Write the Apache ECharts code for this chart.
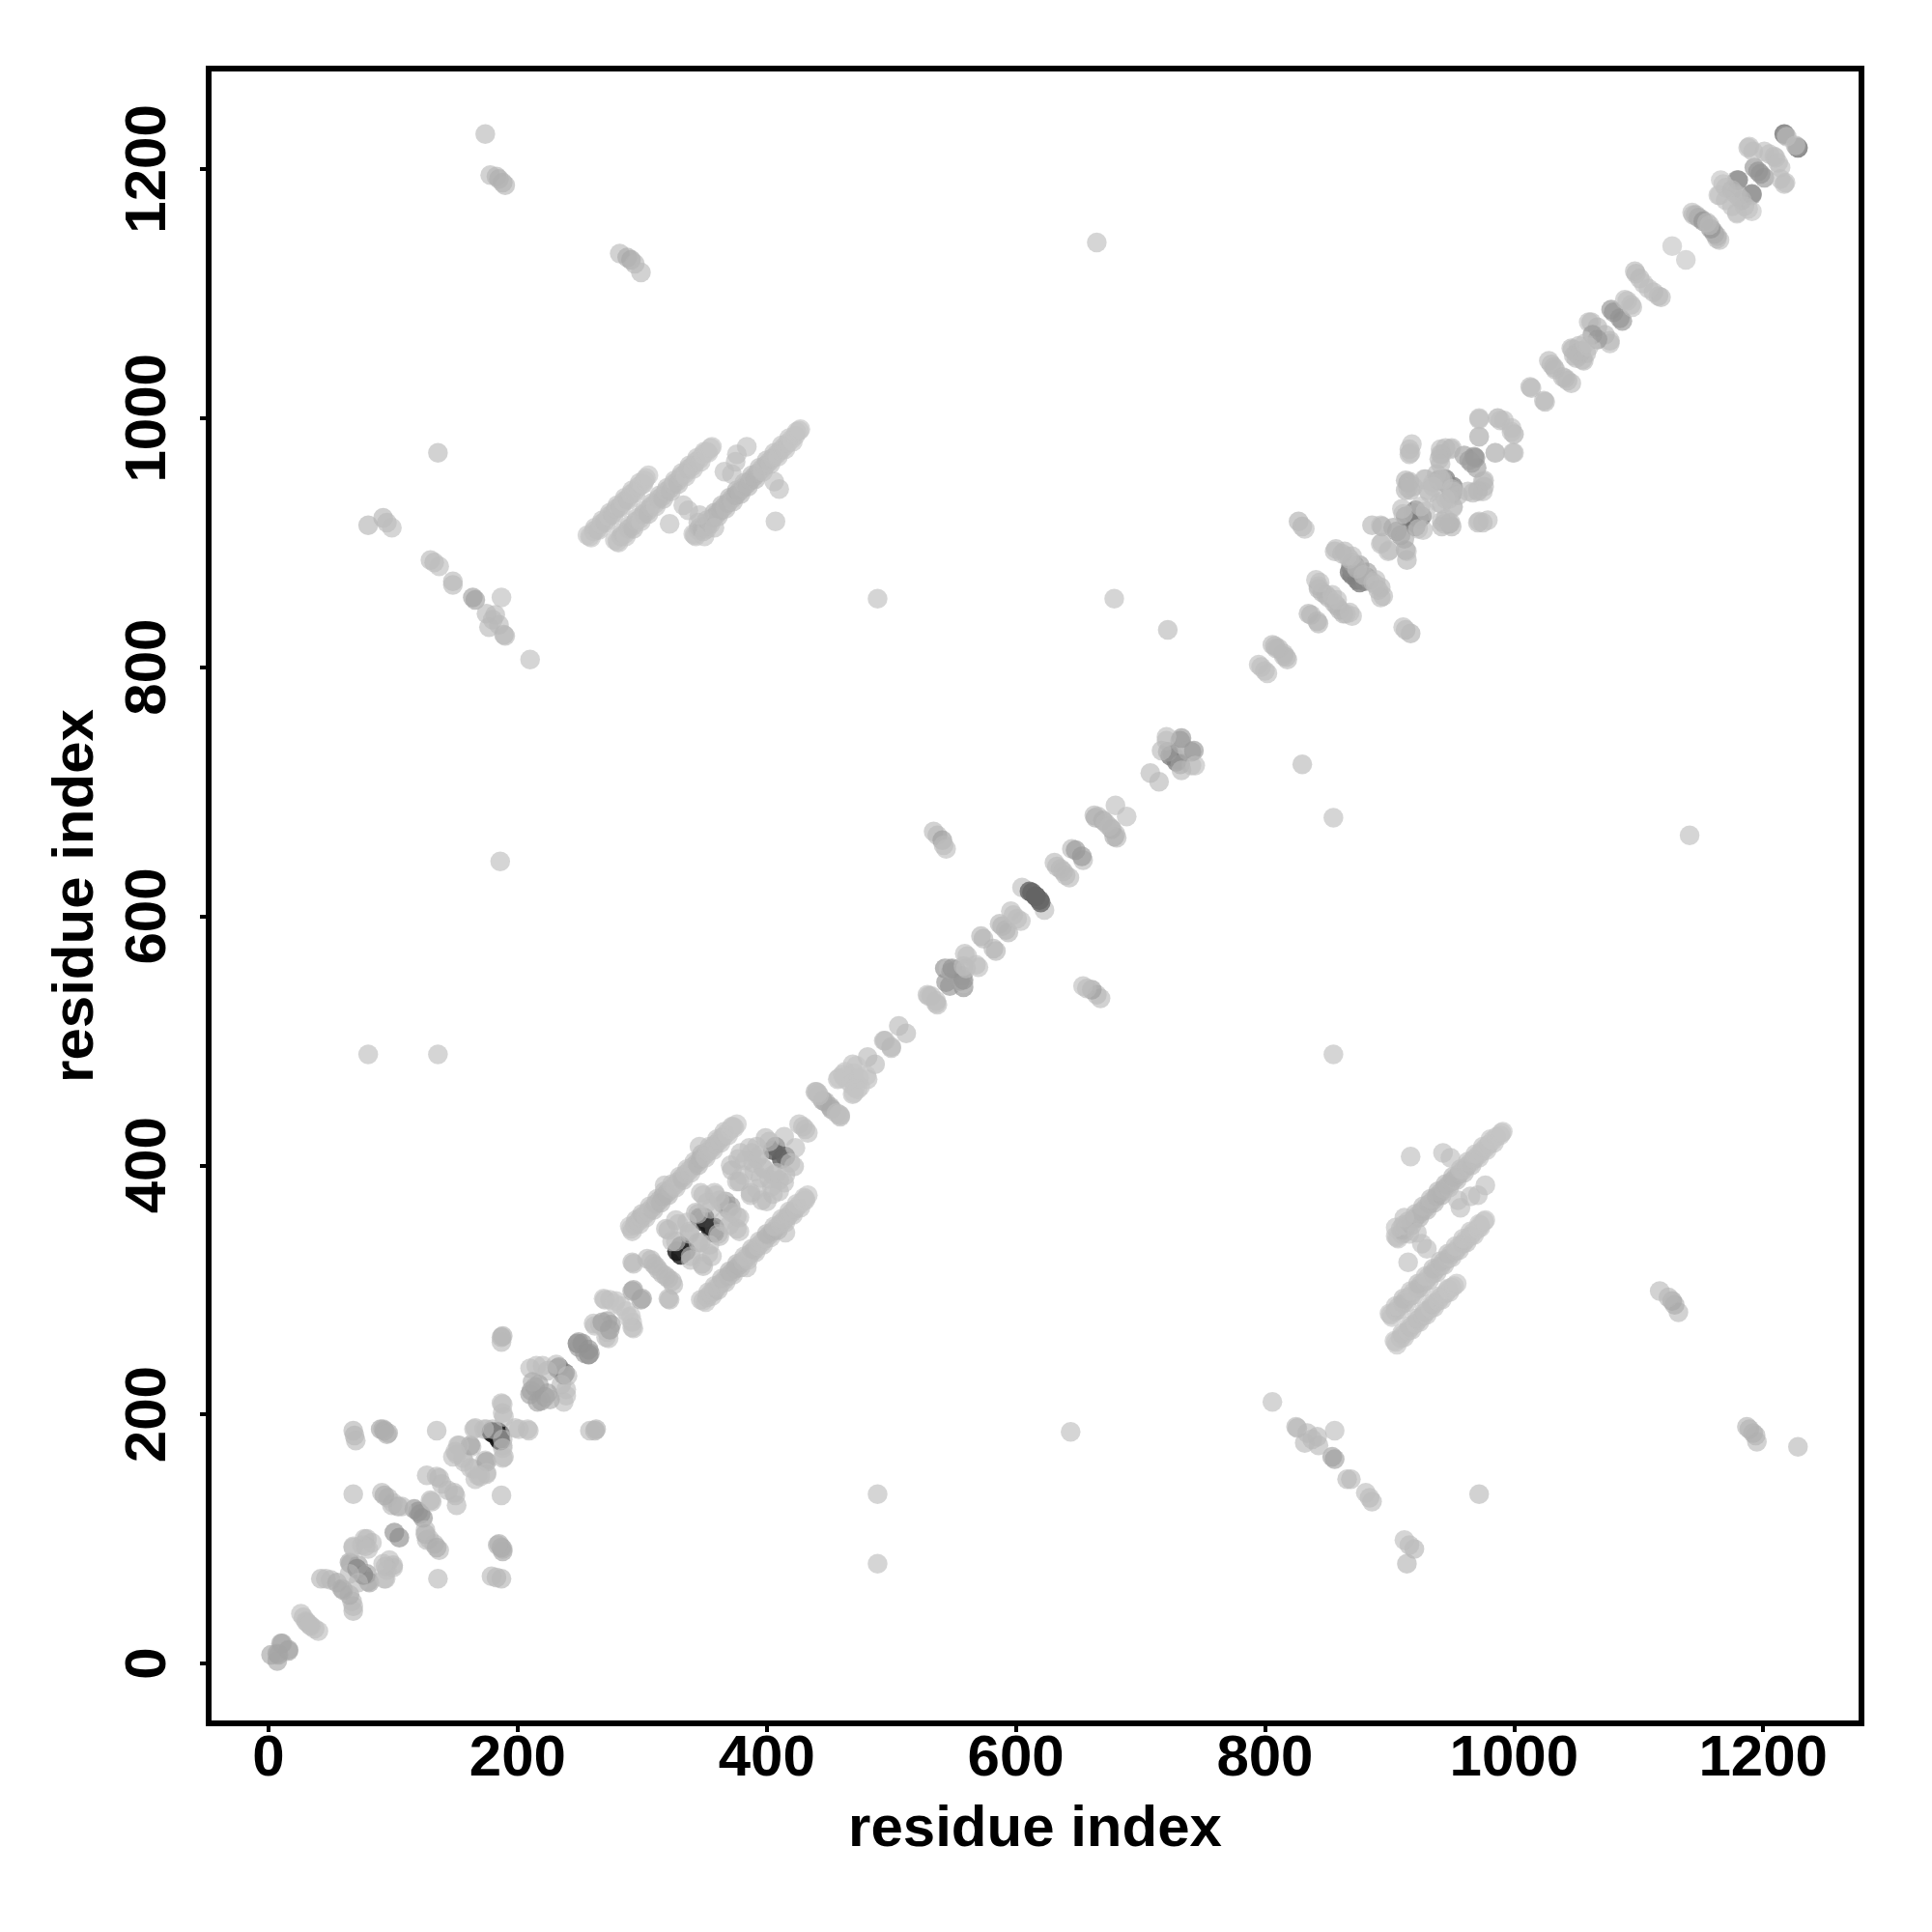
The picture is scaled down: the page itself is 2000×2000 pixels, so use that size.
<!DOCTYPE html>
<html><head><meta charset="utf-8">
<style>html,body{margin:0;padding:0;background:#fff}#c{width:2000px;height:2000px}</style>
<script src="https://cdn.jsdelivr.net/npm/echarts@6/dist/echarts.min.js"></script>
</head><body><div id="c"></div>
<script>
// Each contact is [lower residue, higher residue, grey level]; the map is symmetric.
const tickValues = [0,200,400,600,800,1000,1200];
const axisTitle = 'residue index';
const contactsStart = [
[7,2,165],[16,11,165],[10,16,165],[7,8,165],
[26,40,190],[28,37,190],[30,34,190],[31,33,190],
[42,68,180],[46,68,185],[50,67,185],[55,65,170],[59,60,170],[65,81,165],[66,80,170],[71,76,100],[72,79,160],
[65,72,185],[68,93,185],[68,94,190],[77,100,190],[83,97,190],[79,100,185],[78,94,185],[75,95,190],[80,92,190],
[68,136,185],[68,187,180],[69,183,180],[70,179,185],[90,188,165],[93,187,165],[96,185,170],[135,187,185],[187,262,175],[188,263,175],[187,258,185],[92,188,175],[95,184,175],
[91,137,185],[96,133,185],[99,127,185],[104,126,165],[101,105,140],[117,124,146],[120,122,146],[100,129,185],[93,135,170],[107,126,185]
];
const contactsCoil = [
[127,151,185],[135,150,185],[137,149,185],[139,144,185],[130,131,185],[148,166,190],[152,175,190],[163,174,190],[157,162,190],[156,165,190],[162,175,160],[153,175,190],[151,168,190],[150,170,190],[166,189,185],[175,188,190],[179,186,20],[180,185,20],[184,186,30],[165,188,190],[173,188,190],[188,201,190],[187,209,190],[188,208,190],[189,198,190],[188,180,185],
[210,237,190],[220,239,190],[232,237,128],[233,238,128],[231,240,190],[224,235,185],[215,239,190],[210,216,160],[217,224,160],[211,219,160],[214,222,160],[212,226,170],
[248,257,136],[249,254,150],[249,258,156],[252,257,146],[272,275,160],[266,272,180],[262,271,190],[261,273,190],[268,274,160],[269,293,195],[274,292,195],[279,291,195],[283,287,195],[270,292,190],[278,289,195],[292,299,165],[293,300,165],[292,322,185],[307,324,185],[309,321,185],[293,321,185],[311,319,185],[304,325,185],[313,316,185]
];
const contactsSheetA = [
[290,351,195],[291,349,195],[292,347,190],[294,352,190],[295,356,190],[297,355,190],[298,353,190],[299,358,190],[300,361,185],[302,360,190],[303,358,190],[305,363,190],[306,367,190],[308,366,190],[309,364,185],[311,369,185],[312,373,190],[314,372,185],[315,370,180],[317,375,180],[318,379,180],[318,384,190],[320,378,180],[321,376,180],[323,381,185],[324,385,190],[326,384,190],[327,382,190],[329,387,190],[330,391,190],[332,390,185],[333,388,185],[335,393,190],[336,397,190],[338,396,190],[339,394,190],[341,399,190],[342,403,190],[344,402,185],[345,400,180],[346,415,190],[347,405,180],[348,409,180],[350,408,185],[351,406,190],[353,411,190],[354,415,190],[356,414,190],[357,412,190],[359,417,190],[360,421,190],[362,420,190],[363,418,190],[365,423,190],[366,427,190],[368,426,192],[369,424,192],[371,429,195],[372,431,195],[373,431,195],[374,430,195],[376,433,195]
];
const contactsCore = [
[328,331,20],[331,335,40],[347,357,20],[349,355,20],[346,358,40],[350,358,60],
[347,378,190],[358,378,190],[365,369,160],[367,371,160],[359,376,190],[349,376,190],[345,361,190],[343,362,185],[327,356,190],[319,349,185],[327,339,190],[338,347,185],[338,345,185],[321,348,185],[329,353,190],[324,339,190],[336,354,190],[352,370,190],[355,365,190],[362,372,190],
[405,412,90],[407,415,100],[379,410,190],[386,414,190],[392,405,190],[371,400,190],[376,387,190],[378,387,185],[389,402,190],[388,410,190],[377,405,190],[372,396,185],[392,415,190],[399,422,185],[414,423,190],[402,419,190],[397,398,190],[383,404,190],[381,392,190],[394,408,190],[390,395,190],
[426,433,190],[429,431,190],[439,459,185],[445,452,156],[447,451,170],[440,459,185],[442,456,190],[441,458,190]
];
const contactsMiddle = [
[457,469,190],[469,481,190],[481,487,185],[494,500,185],[495,500,185],[506,512,185],[472,480,195],[458,470,195],[463,475,195],[467,470,195],[465,468,195],[461,473,195],[470,474,195],[462,471,195],
[529,537,190],[530,536,190],[532,536,190],[543,558,140],[544,547,146],[552,557,150],[546,558,190],[548,555,160],[549,558,146],[558,560,190],
[559,570,190],[561,568,190],[572,584,180],[574,582,180],[587,594,180],[589,592,180],[596,604,190],[598,601,190],[605,623,190],[613,619,100],[611,620,100],[616,616,100],
[631,643,185],[633,640,185],[636,638,185],[645,654,185],[648,653,150],[663,681,185],[664,679,170],[670,677,156],[666,680,185],[672,675,185],[680,689,190],[708,715,185],
[724,729,128],[726,730,128],[721,741,190],[732,741,156],[733,738,190],[733,743,150],[722,732,156],[721,744,190],[717,733,185],
[795,802,190],[797,800,190],[806,818,185],[811,815,185],[808,817,185],[815,809,185],[835,843,180],[837,842,180],[841,870,190],[843,865,190],[849,858,180],[851,856,180],[846,860,180],[843,863,180],[854,858,190],[844,868,190]
];
const contactsBundle = [
[868,876,128],[870,874,128],[869,880,136],[857,895,185],[864,893,185],[870,884,156],[872,882,156],[876,882,156],[868,887,185],[870,889,190],[874,879,185],[856,893,185],[866,889,190],[862,891,185],
[939,950,128],[944,949,128],[945,951,136],[913,921,112],[921,926,128],[919,924,128],
[916,975,185],[916,971,185],[941,975,190],[949,975,190],[942,971,190],[945,976,185],[960,970,156],[968,969,146],[964,966,156],[972,985,190],[972,1000,190],[987,1000,170],[992,998,190],[989,998,190],[985,972,190],[999,972,190],[976,950,185],[918,979,190],[917,972,190],[913,950,180],[913,942,180],[915,948,170],[919,945,185],[928,951,190],[932,940,190],[941,951,190],[950,943,190],[931,942,190],[929,951,190],[916,949,185],[917,942,185],[915,944,185],[886,914,180],[893,914,190],[893,899,190],[894,900,190],[894,913,180],[906,909,160],[903,912,170],[911,923,190],[910,927,190],[925,929,190],[940,967,185],[941,971,185],[935,948,190],[938,955,185],[941,963,185],[935,945,190]
];
const contactsEnd = [
[1013,1025,185],[1014,1024,185],[1028,1046,185],[1032,1041,185],[1033,1039,185],[1030,1043,185],[1047,1055,185],[1046,1056,185],[1050,1052,185],[1052,1058,185],[1048,1050,185],[1054,1054,185],[1060,1077,190],[1062,1077,185],[1067,1073,180],[1063,1067,150],[1057,1060,190],[1078,1087,146],[1080,1085,146],[1089,1095,190],[1091,1094,190],[1097,1118,185],[1098,1116,185],[1101,1112,185],[1104,1108,190],[1127,1138,195],
[1143,1165,190],[1144,1163,185],[1146,1163,180],[1148,1161,170],[1150,1160,175],[1152,1158,146],[1155,1157,185],
[1180,1191,136],[1179,1191,150],[1188,1217,190],[1189,1218,190],[1201,1214,190],[1193,1201,146],[1196,1198,146],[1168,1188,190],[1165,1179,190],[1164,1179,195],[1166,1191,195],[1178,1180,185],[1209,1210,190],[1192,1214,190],[1205,1212,190],[1170,1185,190],[1175,1183,185],[1170,1175,190],
[1217,1228,112],[1218,1227,150],[1219,1226,190]
];
const contactsSheetB = [
[256,906,195],[258,905,195],[259,904,195],[261,909,192],[262,912,192],[264,911,192],[265,910,190],[267,915,192],[268,918,192],[270,917,190],[271,916,190],[273,921,192],[274,924,192],[276,923,190],[277,922,190],[279,927,190],[280,930,192],[282,929,190],[283,928,190],[285,933,192],[286,936,192],[288,935,190],[289,934,190],[291,939,192],[292,942,192],[294,941,192],[295,940,192],[297,945,192],[298,948,192],[300,947,195],[301,947,195],[302,950,195],[303,952,195],[305,954,195]
];
const contactsSheetC = [
[278,902,195],[280,901,192],[281,900,192],[283,905,190],[284,908,190],[286,907,190],[287,905,192],[289,911,190],[290,914,190],[292,913,188],[293,911,185],[295,917,188],[296,920,190],[298,919,190],[299,917,192],[301,923,190],[302,926,190],[304,925,188],[305,923,185],[307,929,188],[308,932,190],[310,931,190],[311,929,192],[313,935,190],[314,938,190],[316,937,188],[317,935,185],[319,941,188],[320,944,190],[322,943,188],[323,941,185],[325,947,188],[326,950,192],[328,949,188],[329,947,185],[331,953,188],[332,956,190],[334,955,190],[335,953,192],[337,959,190],[338,962,190],[340,961,190],[341,959,192],[343,965,192],[344,968,192],[346,967,192],[347,965,192],[349,971,195],[350,973,195],[352,973,195],[353,972,195],[355,976,195],[356,977,195]
];
const contactsSheetD = [
[341,907,195],[342,906,192],[343,905,192],[345,916,190],[345,910,190],[346,912,185],[348,911,182],[349,909,180],[350,905,192],[351,913,185],[352,911,190],[352,918,180],[354,917,182],[355,915,185],[357,920,180],[358,924,175],[360,923,180],[361,921,185],[363,926,180],[364,930,180],[366,929,182],[367,927,185],[369,932,180],[370,936,180],[372,935,182],[373,933,185],[375,938,178],[376,942,175],[378,941,178],[379,939,180],[381,944,182],[382,948,185],[384,947,182],[385,945,180],[387,950,182],[388,954,185],[390,953,182],[391,951,180],[393,956,182],[394,960,185],[396,959,188],[397,957,190],[399,962,188],[400,966,185],[402,965,188],[403,963,190],[405,968,190],[406,972,190],[408,971,190],[409,969,192],[411,974,192],[412,978,192],[414,977,192],[415,975,192],[417,980,192],[418,984,192],[420,983,195],[421,981,195],[423,986,195],[424,989,195],[426,990,195],[427,991,195]
];
const contactsFar = [
[80,489,190],[136,489,190],[489,855,190],[665,1141,190],[174,1228,185],[178,1195,185],[183,1194,180],[185,1192,175],[188,1189,175],[190,1187,180],
[282,1132,185],[291,1127,160],[288,1129,170],[294,1124,180],[299,1117,185],[186,644,190],[322,915,190],[333,930,190],[337,926,190],[346,922,190],[358,912,190],[366,957,190],[376,971,190],[384,977,190],[407,917,190],[406,949,190],[410,943,190],[375,965,190],[372,955,190],
[136,972,185],[80,914,180],[92,920,180],[95,916,185],[99,912,190],[130,886,185],[133,884,185],[137,881,190],[148,869,185],[148,866,185],[164,856,160],[166,854,160],[187,856,190],[175,843,185],[182,842,185],[177,832,185],[185,834,185],[180,838,185],[189,826,180],[190,825,185],[210,806,190],
[534,668,185],[537,665,185],[541,661,156],[542,657,185],[544,654,190],[679,855,190],[722,830,185],[827,917,175],[830,913,180],[832,911,190]
];
const allContacts = [].concat(contactsStart,contactsCoil,contactsSheetA,contactsCore,contactsMiddle,contactsBundle,contactsEnd,contactsSheetB,contactsSheetC,contactsSheetD,contactsFar);
const points = [];
allContacts.forEach(function(c){ points.push([c[0],c[1],c[2]]); points.push([c[1],c[0],c[2]]); });
function fill(p){ var g=p.value[2]; return 'rgba('+g+','+g+','+g+','+(g>=140?0.8:1)+')'; }
const font='"Liberation Sans", Arial, Helvetica, sans-serif';
function axis(isX,range,gap){
  return {type:'value',min:range[0],max:range[1],name:axisTitle,nameLocation:'middle',nameGap:gap,
    nameRotate:isX?0:90,
    nameTextStyle:{fontFamily:font,fontWeight:'bold',fontSize:60,color:'#000'},
    splitLine:{show:false},axisLine:{show:false,onZero:false},
    axisTick:{show:true,customValues:tickValues,length:9,lineStyle:{width:4,color:'#000'}},
    axisLabel:{show:true,customValues:tickValues,rotate:isX?0:90,margin:isX?7:32,fontFamily:font,fontWeight:'bold',fontSize:60,color:'#000',formatter:function(v){return String(v);}}};
}
const chart=echarts.init(document.getElementById('c'),null,{renderer:'canvas'});
chart.setOption({animation:false,backgroundColor:'#fff',
  grid:{left:216,top:71,width:1711,height:1713,show:true,borderColor:'#000',borderWidth:6,backgroundColor:'transparent',containLabel:false},
  xAxis:axis(true,[-48.1,1279],80),
  yAxis:axis(false,[-48.1,1280.6],107),
  series:[{type:'scatter',symbol:'circle',symbolSize:20.5,data:points,itemStyle:{color:fill},clip:false,silent:true}]
});
</script></body></html>
